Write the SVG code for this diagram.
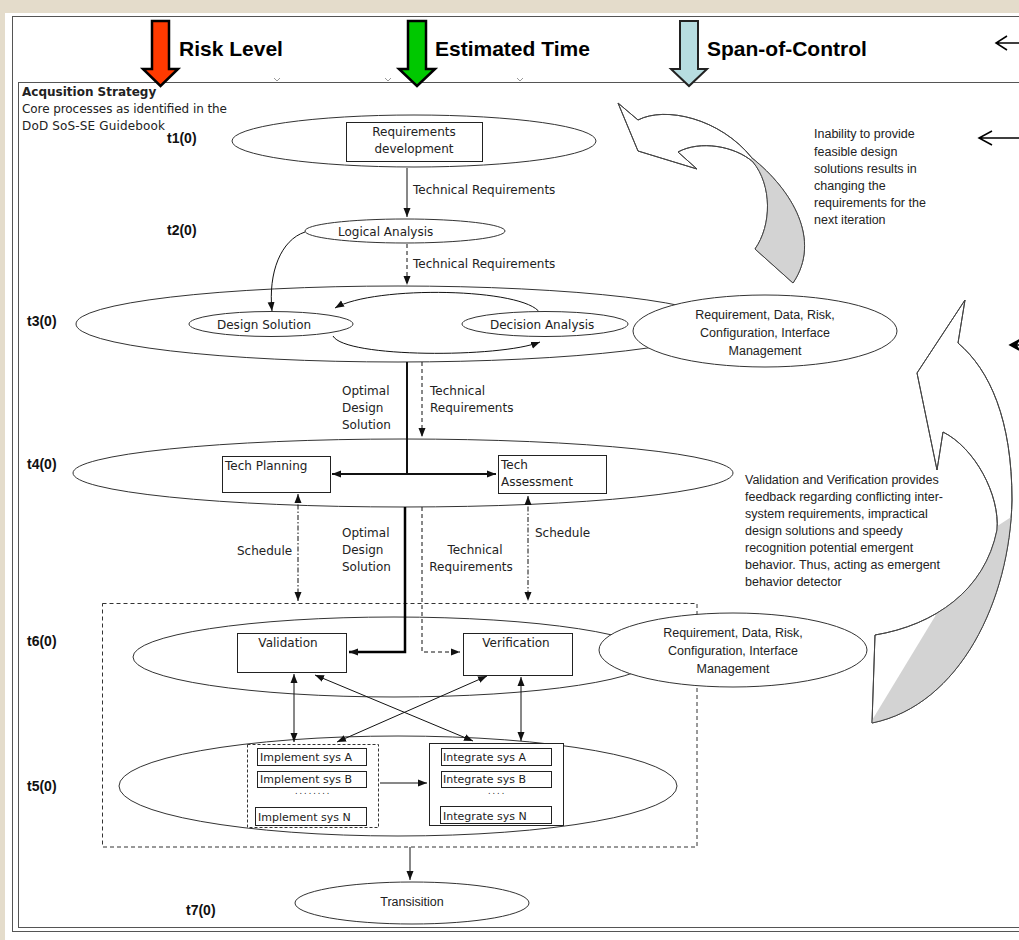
<svg xmlns="http://www.w3.org/2000/svg" width="1019" height="940" viewBox="0 0 1019 940">
  <style>
    .frame { fill: none; stroke: #555; stroke-width: 1; }
    .ell { fill: #fff; stroke: #333; stroke-width: 1; }
    .box { fill: #fff; stroke: #222; stroke-width: 1; }
    .lbl { font-family: "DejaVu Sans", Verdana, sans-serif; font-size: 12px; fill: #222; }
    .sm { font-family: "DejaVu Sans", Verdana, sans-serif; font-size: 11px; fill: #222; }
    .dots { font-family: "DejaVu Sans", Verdana, sans-serif; font-size: 8px; fill: #222; }
    .note { font-family: "Liberation Sans", Arial, sans-serif; font-size: 12.5px; fill: #222; }
    .tl { font-family: "Liberation Sans", Arial, sans-serif; font-size: 14px; font-weight: bold; fill: #111; }
    .hd { font-family: "Liberation Sans", Arial, sans-serif; font-size: 21px; font-weight: bold; fill: #000; }
    .mid { text-anchor: middle; }
    .c { fill: none; stroke: #111; stroke-width: 1; }
    .dash { stroke-dasharray: 4 3; }
    .dd { stroke-dasharray: 5 2 1.5 2; }
    .thick { stroke-width: 2; }
    .big { stroke: #000; stroke-width: 2.5; }
    .loop { fill: #fff; stroke: #444; stroke-width: 1; }
    .shade { fill: #d3d3d3; stroke: none; }
  </style>
  <defs>
    <marker id="ah" markerUnits="userSpaceOnUse" markerWidth="10" markerHeight="8" refX="9" refY="4" orient="auto-start-reverse">
      <path d="M0,0.5 L9,4 L0,7.5 Z" fill="#111" stroke="none"/>
    </marker>
    <clipPath id="loopTop">
      <path d="M618,103 L638,120 C665,106 720,118 752,158 C792,190 822,240 793,283 L755,249 C772,225 772,185 753,162 C735,146 700,140 678,152 L697,169 L638,151 Z"/>
    </clipPath>
    <clipPath id="loopBottom">
      <path d="M965,300 L958,343 C990,370 1012,420 1012,500 C1010,600 960,705 872,723 L875,635 C935,625 985,590 997,530 C1000,495 975,448 943,432 L937,470 L917,373 Z"/>
    </clipPath>
  </defs>

  <!-- page background and frames -->
  <rect x="0" y="0" width="1019" height="940" fill="#e4dccb"/>
  <rect x="5" y="13" width="1014" height="927" fill="#fff"/>
  <rect class="frame" x="12.5" y="16.5" width="1030" height="915"/>
  <rect class="frame" x="18.5" y="82.5" width="1030" height="845" stroke="#444"/>
  <g fill="none" stroke="#999" stroke-width="1">
    <path d="M274,78 L277,81 L280,78"/>
    <path d="M385,78 L388,81 L391,78"/>
    <path d="M517,78 L520,81 L523,78"/>
  </g>

  <!-- header indicators -->
  <g id="risk-level">
    <path d="M152,21 H169 V69 H178 L160.5,86 L143,69 H152 Z" fill="#ff3a00" stroke="#000" stroke-width="2.5"/>
    <text class="hd" x="179" y="56">Risk Level</text>
  </g>
  <g id="estimated-time">
    <path d="M408,21 H426 V69 H435 L417,86 L399,69 H408 Z" fill="#00c800" stroke="#000" stroke-width="2.5"/>
    <text class="hd" x="435" y="56">Estimated Time</text>
  </g>
  <g id="span-of-control">
    <path d="M680,21 H698 V69 H707 L689,86 L671,69 H680 Z" fill="#b7dde1" stroke="#222" stroke-width="2"/>
    <text class="hd" x="707" y="56">Span-of-Control</text>
  </g>

  <!-- side pointers at right edge -->
  <g id="edge-pointers" fill="none" stroke="#000" stroke-width="1.5">
    <path d="M996,43 H1019 M1007,36 L996,43 L1007,50"/>
    <path d="M979,138 H1019 M992,131 L979,138 L992,145"/>
    <path d="M1013,345 H1019"/>
    <path d="M1010,345 L1019,340 L1016,345 L1019,350 Z" fill="#000"/>
  </g>

  <!-- caption -->
  <g id="caption">
    <text class="lbl" x="22" y="96" font-weight="bold" font-size="11px">Acqusition Strategy</text>
    <text class="lbl" x="22" y="113" textLength="205">Core processes as identified in the</text>
    <text class="lbl" x="22" y="130" textLength="143">DoD SoS-SE Guidebook</text>
  </g>

  <!-- time step labels -->
  <g id="time-steps">
    <text class="tl" x="167" y="143">t1(0)</text>
    <text class="tl" x="167" y="235">t2(0)</text>
    <text class="tl" x="27" y="326">t3(0)</text>
    <text class="tl" x="27" y="469">t4(0)</text>
    <text class="tl" x="27" y="646">t6(0)</text>
    <text class="tl" x="27" y="791">t5(0)</text>
    <text class="tl" x="186" y="915">t7(0)</text>
  </g>

  <!-- feedback loop arrows -->
  <g id="feedback-requirements">
    <path class="loop" d="M618,103 L638,120 C665,106 720,118 752,158 C792,190 822,240 793,283 L755,249 C772,225 772,185 753,162 C735,146 700,140 678,152 L697,169 L638,151 Z"/>
    <rect class="shade" x="751" y="150" width="90" height="150" clip-path="url(#loopTop)"/>
    <path fill="none" stroke="#444" d="M618,103 L638,120 C665,106 720,118 752,158 C792,190 822,240 793,283 L755,249 C772,225 772,185 753,162 C735,146 700,140 678,152 L697,169 L638,151 Z"/>
    <text class="note" x="814" y="138">Inability to provide</text>
    <text class="note" x="814" y="155.5">feasible design</text>
    <text class="note" x="814" y="172.5">solutions results in</text>
    <text class="note" x="814" y="190">changing the</text>
    <text class="note" x="814" y="207">requirements for the</text>
    <text class="note" x="814" y="224">next iteration</text>
  </g>
  <g id="feedback-validation">
    <path class="loop" d="M965,300 L958,343 C990,370 1012,420 1012,500 C1010,600 960,705 872,723 L875,635 C935,625 985,590 997,530 C1000,495 975,448 943,432 L937,470 L917,373 Z"/>
    <path class="shade" d="M985,534 L1019,512 L1019,740 L860,740 Z" clip-path="url(#loopBottom)"/>
    <path fill="none" stroke="#444" d="M965,300 L958,343 C990,370 1012,420 1012,500 C1010,600 960,705 872,723 L875,635 C935,625 985,590 997,530 C1000,495 975,448 943,432 L937,470 L917,373 Z"/>
    <text class="note" x="745" y="484">Validation and Verification provides</text>
    <text class="note" x="745" y="501">feedback regarding conflicting inter-</text>
    <text class="note" x="745" y="518">system requirements, impractical</text>
    <text class="note" x="745" y="535">design solutions and speedy</text>
    <text class="note" x="745" y="552">recognition potential emergent</text>
    <text class="note" x="745" y="569">behavior. Thus, acting as emergent</text>
    <text class="note" x="745" y="586">behavior detector</text>
  </g>

  <!-- t1: requirements -->
  <g id="t1-requirements">
    <ellipse class="ell" cx="414" cy="141" rx="182" ry="26"/>
    <rect class="box" x="346.5" y="122.5" width="136" height="39"/>
    <text class="lbl mid" x="414" y="136">Requirements</text>
    <text class="lbl mid" x="414" y="153">development</text>
  </g>

  <!-- t2: logical analysis -->
  <g id="t2-logical-analysis">
    <ellipse class="ell" cx="405" cy="231" rx="100" ry="12"/>
    <text class="lbl" x="338" y="236">Logical Analysis</text>
  </g>

  <!-- t3: design solution / decision analysis -->
  <g id="t3-design">
    <ellipse class="ell" cx="398" cy="324" rx="322" ry="38"/>
    <path class="c" d="M540,313 C525,288 375,285 335,308" marker-end="url(#ah)"/>
    <path class="c" d="M333,336 C345,358 500,358 540,342" marker-end="url(#ah)"/>
    <ellipse class="ell" cx="271" cy="324" rx="82" ry="12.5"/>
    <text class="lbl" x="217" y="329">Design Solution</text>
    <ellipse class="ell" cx="545" cy="324" rx="83" ry="12.5"/>
    <text class="lbl" x="490" y="329">Decision Analysis</text>
  </g>
  <g id="t3-management">
    <ellipse class="ell" cx="765" cy="331" rx="132" ry="36"/>
    <text class="note mid" x="765" y="319">Requirement, Data, Risk,</text>
    <text class="note mid" x="765" y="337">Configuration, Interface</text>
    <text class="note mid" x="765" y="355">Management</text>
  </g>

  <!-- t4: technical planning / assessment -->
  <g id="t4-tech">
    <ellipse class="ell" cx="403" cy="473" rx="330" ry="34"/>
    <rect class="box" x="222.5" y="456.5" width="108" height="36"/>
    <text class="lbl" x="225" y="470">Tech Planning</text>
    <rect class="box" x="498.5" y="455.5" width="108" height="38"/>
    <text class="lbl" x="501" y="469">Tech</text>
    <text class="lbl" x="501" y="486">Assessment</text>
  </g>

  <!-- t6/t5: validation, verification, implementation, integration -->
  <g id="vv-region">
    <rect x="102.5" y="603.5" width="594.5" height="243.5" fill="none" stroke="#333" stroke-dasharray="4 3"/>
  </g>
  <g id="t6-vv">
    <ellipse class="ell" cx="394" cy="657" rx="261" ry="40"/>
    <rect class="box" x="237.5" y="633.5" width="109" height="39"/>
    <text class="lbl mid" x="288" y="647">Validation</text>
    <rect class="box" x="463.5" y="633.5" width="109" height="42"/>
    <text class="lbl mid" x="516" y="647">Verification</text>
  </g>
  <g id="t6-management">
    <ellipse class="ell" cx="733" cy="650" rx="134" ry="37"/>
    <text class="note mid" x="733" y="637">Requirement, Data, Risk,</text>
    <text class="note mid" x="733" y="655">Configuration, Interface</text>
    <text class="note mid" x="733" y="673">Management</text>
  </g>
  <g id="t5-build">
    <ellipse class="ell" cx="398" cy="786" rx="279" ry="50" stroke-width="1.3"/>
    <rect x="247.5" y="744.5" width="131" height="83" fill="#fff" stroke="#333" stroke-dasharray="3 2"/>
    <rect class="box" x="257.5" y="748.5" width="109" height="17"/>
    <text class="sm" x="260" y="761">Implement sys A</text>
    <rect class="box" x="257.5" y="771.5" width="109" height="16"/>
    <text class="sm" x="260" y="783">Implement sys B</text>
    <text class="dots" x="295" y="794" letter-spacing="2">........</text>
    <rect class="box" x="255.5" y="807.5" width="111" height="18"/>
    <text class="sm" x="258" y="821">Implement sys N</text>
    <rect class="box" x="429.5" y="743.5" width="134" height="82"/>
    <rect class="box" x="441.5" y="748.5" width="110" height="17"/>
    <text class="sm" x="443" y="761">Integrate sys A</text>
    <rect class="box" x="441.5" y="771.5" width="110" height="16"/>
    <text class="sm" x="443" y="783">Integrate sys B</text>
    <text class="dots" x="488" y="794" letter-spacing="2">....</text>
    <rect class="box" x="440.5" y="806.5" width="111" height="17"/>
    <text class="sm" x="443" y="820">Integrate sys N</text>
  </g>

  <!-- t7: transition -->
  <g id="t7-transition">
    <ellipse class="ell" cx="412" cy="903" rx="117" ry="21"/>
    <text class="note mid" x="412" y="906" font-size="15px">Transisition</text>
  </g>

  <!-- flows between processes -->
  <g id="connectors">
    <path class="c" d="M407,168 V217" marker-end="url(#ah)"/>
    <path class="c dash" d="M407,244 V285" marker-end="url(#ah)"/>
    <path class="c" d="M305,232 C281,240 268,272 272,311" marker-end="url(#ah)"/>
    <path class="c thick" d="M407,362 V474"/>
    <path class="c thick" d="M407,474 H332" marker-end="url(#ah)"/>
    <path class="c thick" d="M407,474 H496" marker-end="url(#ah)"/>
    <path class="c dash" d="M422,362 V437" marker-end="url(#ah)"/>
    <path class="c big" d="M405,507 V652 H349" marker-end="url(#ah)"/>
    <path class="c dash" d="M422,507 V652 H460" marker-end="url(#ah)"/>
    <path class="c dd" d="M298,494 V601" marker-start="url(#ah)" marker-end="url(#ah)"/>
    <path class="c dd" d="M528,496 V601" marker-start="url(#ah)" marker-end="url(#ah)"/>
    <path class="c" d="M294,674 V742" marker-start="url(#ah)" marker-end="url(#ah)"/>
    <path class="c" d="M315,675 L473,741" marker-start="url(#ah)" marker-end="url(#ah)"/>
    <path class="c" d="M487,676 L337,742" marker-start="url(#ah)" marker-end="url(#ah)"/>
    <path class="c" d="M521,677 V741" marker-start="url(#ah)" marker-end="url(#ah)"/>
    <path class="c" d="M380,783 H427" marker-end="url(#ah)"/>
    <path class="c" d="M410,847 V880" marker-end="url(#ah)"/>
  </g>

  <!-- flow labels -->
  <g id="flow-labels">
    <text class="lbl" x="413" y="194">Technical Requirements</text>
    <text class="lbl" x="413" y="268">Technical Requirements</text>
    <text class="lbl" x="342" y="395">Optimal</text>
    <text class="lbl" x="342" y="412">Design</text>
    <text class="lbl" x="342" y="429">Solution</text>
    <text class="lbl" x="430" y="395">Technical</text>
    <text class="lbl" x="430" y="412">Requirements</text>
    <text class="lbl" x="237" y="555">Schedule</text>
    <text class="lbl" x="342" y="537">Optimal</text>
    <text class="lbl" x="342" y="554">Design</text>
    <text class="lbl" x="342" y="571">Solution</text>
    <text class="lbl mid" x="475" y="554">Technical</text>
    <text class="lbl mid" x="471" y="571">Requirements</text>
    <text class="lbl" x="535" y="537">Schedule</text>
  </g>
</svg>
